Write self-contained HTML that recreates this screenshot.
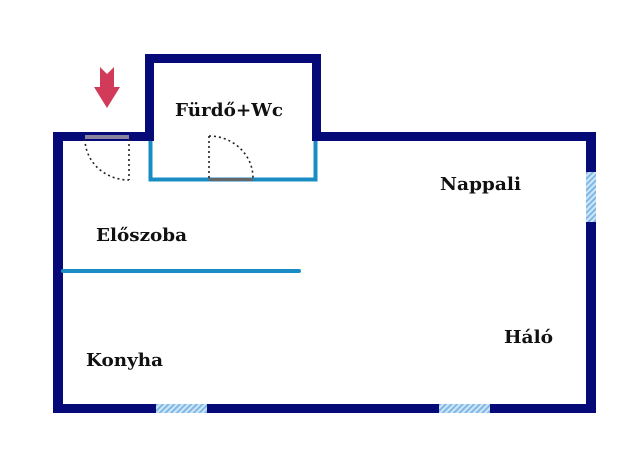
<!DOCTYPE html>
<html><head><meta charset="utf-8"><style>
html,body{margin:0;padding:0;background:#fff;width:640px;height:454px;overflow:hidden}
</style></head><body>
<svg width="640" height="454" xmlns="http://www.w3.org/2000/svg">
<defs>
<pattern id="h" width="4" height="4" patternUnits="userSpaceOnUse" patternTransform="rotate(45)">
<rect width="4" height="4" fill="#cfe6f7"/><rect width="2" height="4" fill="#7fb8e6"/>
</pattern>
</defs>
<g fill="#050a78">
<rect x="53" y="132" width="101" height="9"/>
<rect x="312" y="132" width="284" height="9"/>
<rect x="53" y="132" width="10" height="281"/>
<rect x="586" y="132" width="10" height="281"/>
<rect x="53" y="404" width="543" height="9"/>
<rect x="145" y="54" width="9" height="87"/>
<rect x="312" y="54" width="9" height="87"/>
<rect x="145" y="54" width="176" height="9"/>
</g>
<rect x="85" y="135" width="44" height="4" fill="#8a84a0"/>
<g fill="url(#h)">
<rect x="586" y="172" width="10" height="50"/>
<rect x="156" y="404" width="51" height="9"/>
<rect x="439" y="404" width="51" height="9"/>
</g>
<g stroke="#1a8cc4" stroke-width="4" fill="none">
<polyline points="150.5,141 150.5,179.5 315.5,179.5 315.5,141"/>
<line x1="63" y1="271" x2="299" y2="271" stroke-linecap="round"/>
</g>
<rect x="209" y="178" width="44" height="3" fill="#666"/>
<g stroke="#222" stroke-width="1.6" fill="none" stroke-dasharray="2,3">
<line x1="129" y1="139" x2="129" y2="180"/>
<path d="M85,139 A44,41 0 0 0 129,180"/>
<line x1="209" y1="136" x2="209" y2="178"/>
<path d="M209,136 A44,42 0 0 1 253,178"/>
</g>
<path d="M100,67 L107,74 L114,67 L114,87 L120,87 L107,108 L94,87 L100,87 Z" fill="#d23a5a"/>
<g font-family="'DejaVu Serif',serif" font-weight="bold" font-size="18" fill="#111">
<text x="175" y="116" textLength="108" lengthAdjust="spacingAndGlyphs">Fürdő+Wc</text>
<text x="440" y="190" textLength="81" lengthAdjust="spacingAndGlyphs">Nappali</text>
<text x="96" y="241" textLength="91" lengthAdjust="spacingAndGlyphs">Előszoba</text>
<text x="86" y="366" textLength="77" lengthAdjust="spacingAndGlyphs">Konyha</text>
<text x="504" y="343" textLength="49" lengthAdjust="spacingAndGlyphs">Háló</text>
</g>
</svg>
</body></html>
